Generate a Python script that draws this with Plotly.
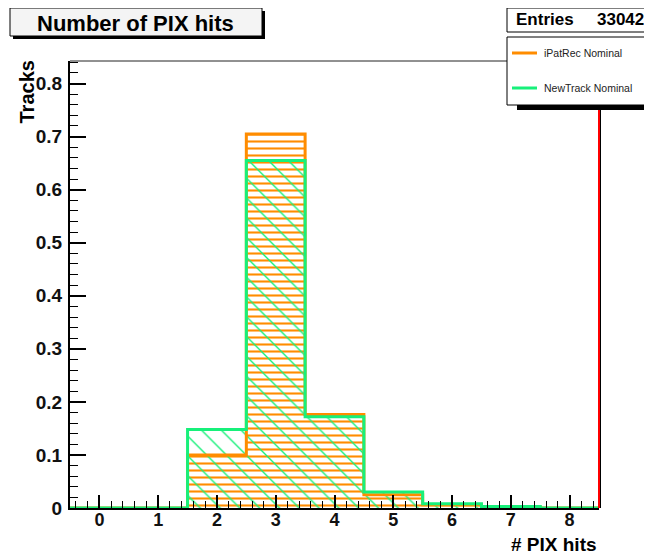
import plotly.graph_objects as go

# ---- data ----
bins = [0, 1, 2, 3, 4, 5, 6, 7, 8]
ipatrec = [0.0, 0.0, 0.100, 0.705, 0.176, 0.025, 0.006, 0.002, 0.0]
newtrack = [0.0, 0.0, 0.148, 0.655, 0.172, 0.030, 0.008, 0.003, 0.0]
xtick_vals = [0, 1, 2, 3, 4, 5, 6, 7, 8]
xtick_text = ["0", "1", "2", "3", "4", "5", "6", "7", "8"]
ytick_vals = [0, 0.1, 0.2, 0.3, 0.4, 0.5, 0.6, 0.7, 0.8]
ytick_text = ["0", "0.1", "0.2", "0.3", "0.4", "0.5", "0.6", "0.7", "0.8"]
title_text = "Number of PIX hits"
entries = "33042"
legend_names = ["iPatRec Nominal", "NewTrack Nominal"]

ORANGE = "#ff8c00"
GREEN = "#17f07a"
FONT = "Liberation Sans, Arial"

# page offset (body margin) and window size
OX, OY = 8, 8
PW, PH = 652, 555
FW, FH = PW - OX, PH - OY
# plot area in page pixels: x 70..599, y 61..508
L = 70 - OX
T = 61 - OY
R = PW - 599
B = PH - 508
W = FW - L - R
H = FH - T - B


def px_x(px):
    return (px - OX - L) / W


def px_y(py):
    return (OY + T + H - py) / H


def step(vals):
    xs = [b - 0.5 for b in bins] + [bins[-1] + 0.5]
    ys = list(vals) + [vals[-1]]
    return xs, ys


fig = go.Figure()

fig.add_trace(go.Bar(
    x=bins, y=ipatrec, width=1.0,
    marker=dict(color="rgba(0,0,0,0)", line=dict(width=0),
                pattern=dict(shape="-", fgcolor=ORANGE, bgcolor="rgba(0,0,0,0)",
                             size=7, solidity=0.3, fillmode="overlay", fgopacity=1)),
    showlegend=False, hoverinfo="skip"))
xs, ys = step(ipatrec)
fig.add_trace(go.Scatter(x=xs, y=ys, mode="lines", line=dict(color=ORANGE, width=3, shape="hv"),
                         showlegend=False, hoverinfo="skip"))

fig.add_trace(go.Bar(
    x=bins, y=newtrack, width=1.0,
    marker=dict(color="rgba(0,0,0,0)", line=dict(width=0),
                pattern=dict(shape="\\", fgcolor=GREEN, bgcolor="rgba(0,0,0,0)",
                             size=14, solidity=0.1, fillmode="overlay", fgopacity=1)),
    showlegend=False, hoverinfo="skip"))
xs, ys = step(newtrack)
fig.add_trace(go.Scatter(x=xs, y=ys, mode="lines", line=dict(color=GREEN, width=3, shape="hv"),
                         showlegend=False, hoverinfo="skip"))

shapes = []
annotations = []

# frame top and right
shapes.append(dict(type="line", xref="paper", yref="paper", x0=0, x1=1, y0=1, y1=1,
                   line=dict(color="#222", width=1)))
shapes.append(dict(type="line", xref="paper", yref="paper", x0=1 + 1.5 / W, x1=1 + 1.5 / W, y0=0, y1=1,
                   line=dict(color="black", width=1)))
shapes.append(dict(type="line", xref="paper", yref="paper", x0=1, x1=1, y0=0, y1=1,
                   line=dict(color="red", width=2)))

# title box with shadow
shapes.append(dict(type="rect", xref="paper", yref="paper", x0=px_x(13), x1=px_x(265),
                   y0=px_y(39), y1=px_y(11), fillcolor="black", line=dict(width=0)))
shapes.append(dict(type="rect", xref="paper", yref="paper", x0=px_x(10), x1=px_x(262),
                   y0=px_y(36), y1=px_y(8), fillcolor="#f4f4f4", line=dict(color="black", width=1)))
annotations.append(dict(xref="paper", yref="paper", x=px_x(135), y=px_y(23), text=title_text,
                        showarrow=False, xanchor="center", yanchor="middle",
                        font=dict(family=FONT, size=22, color="black", weight="bold")))

# entries box
shapes.append(dict(type="rect", xref="paper", yref="paper", x0=px_x(507), x1=px_x(660),
                   y0=px_y(32), y1=px_y(8), fillcolor="white", line=dict(color="black", width=1)))
annotations.append(dict(xref="paper", yref="paper", x=px_x(514), y=px_y(20), text="Entries",
                        showarrow=False, xanchor="left", yanchor="middle",
                        font=dict(family=FONT, size=17, color="black", weight="bold")))
annotations.append(dict(xref="paper", yref="paper", x=px_x(646), y=px_y(20), text=entries,
                        showarrow=False, xanchor="right", yanchor="middle",
                        font=dict(family=FONT, size=17, color="black", weight="bold")))

# legend box with shadow
shapes.append(dict(type="rect", xref="paper", yref="paper", x0=px_x(517), x1=px_x(660),
                   y0=px_y(110), y1=px_y(104), fillcolor="black", line=dict(width=0)))
shapes.append(dict(type="rect", xref="paper", yref="paper", x0=px_x(507), x1=px_x(660),
                   y0=px_y(105), y1=px_y(37), fillcolor="white", line=dict(color="black", width=1)))
for name, col, py in [(legend_names[0], ORANGE, 53), (legend_names[1], GREEN, 88)]:
    shapes.append(dict(type="line", xref="paper", yref="paper", x0=px_x(512), x1=px_x(537),
                       y0=px_y(py), y1=px_y(py), line=dict(color=col, width=3)))
    annotations.append(dict(xref="paper", yref="paper", x=px_x(542), y=px_y(py), text=name,
                            showarrow=False, xanchor="left", yanchor="middle",
                            font=dict(family=FONT, size=10.5, color="#222")))

# axis titles
annotations.append(dict(xref="paper", yref="paper", x=px_x(27), y=px_y(59), text="Tracks",
                        textangle=-90, showarrow=False, xanchor="center", yanchor="top",
                        font=dict(family=FONT, size=20, color="black", weight="bold")))
annotations.append(dict(xref="paper", yref="paper", x=px_x(599), y=px_y(544), text="# PIX hits",
                        showarrow=False, xanchor="right", yanchor="middle",
                        font=dict(family=FONT, size=19, color="black", weight="bold")))

fig.update_layout(
    width=FW, height=FH,
    margin=dict(l=L, r=R, t=T, b=B, pad=0),
    paper_bgcolor="white", plot_bgcolor="white",
    barmode="overlay", bargap=0,
    shapes=shapes, annotations=annotations,
    font=dict(family=FONT, color="black"),
    xaxis=dict(range=[-0.5, 8.5], tickmode="array", tickvals=xtick_vals, ticktext=xtick_text,
               ticks="inside", ticklen=13, tickwidth=1.5, tickcolor="black",
               minor=dict(dtick=0.2, tick0=0, ticks="inside", ticklen=7, tickcolor="black", tickwidth=1),
               showline=True, linecolor="black", linewidth=2, showgrid=False, zeroline=False,
               tickfont=dict(size=18, weight="bold", color="#111"), layer="above traces",
               ticklabelstandoff=-6),
    yaxis=dict(range=[0, 0.8425], tickmode="array", tickvals=ytick_vals, ticktext=ytick_text,
               ticks="inside", ticklen=16, tickwidth=1.5, tickcolor="black",
               minor=dict(dtick=0.02, tick0=0, ticks="inside", ticklen=8, tickcolor="black", tickwidth=1),
               showline=True, linecolor="black", linewidth=2, showgrid=False, zeroline=False,
               tickfont=dict(size=19, weight="bold", color="#111"), layer="above traces",
               ticklabelstandoff=2),
)

fig.write_html("out.html")
